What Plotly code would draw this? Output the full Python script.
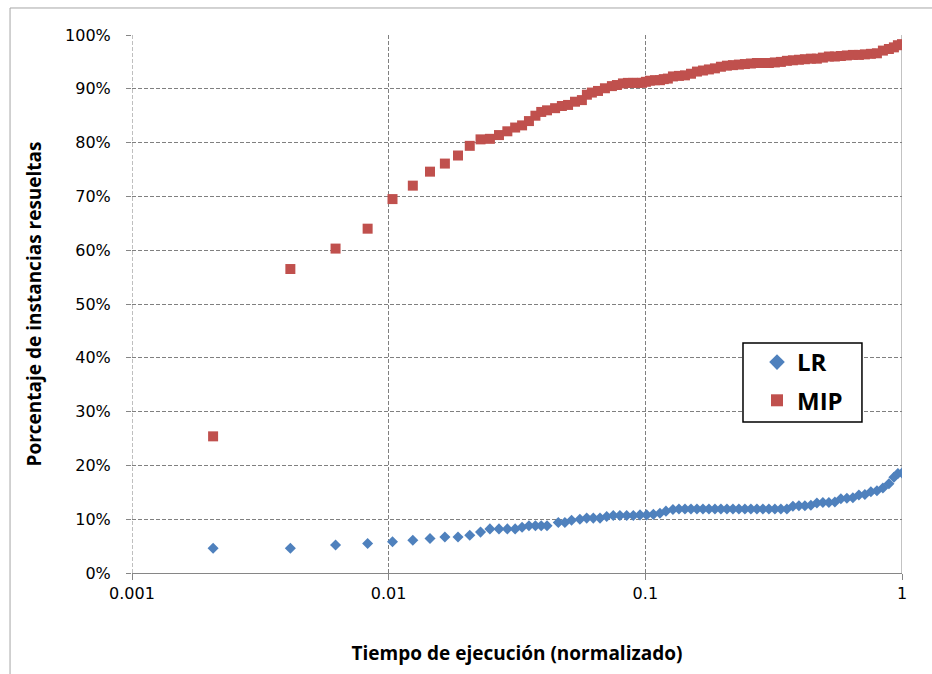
import plotly.graph_objects as go

# Normalised execution time (x) and cumulative share of solved instances (%)
lr_time = [0.00207, 0.00414, 0.00621, 0.00828, 0.01035, 0.01242, 0.01449, 0.01656,
           0.01863, 0.0207, 0.0228, 0.0248, 0.0269, 0.0290, 0.0311, 0.0331, 0.0352,
           0.0373, 0.0393, 0.0414, 0.0458, 0.0486, 0.0516, 0.0556, 0.0591, 0.0627,
           0.0666, 0.0707, 0.0750, 0.0796, 0.0846, 0.0898, 0.0953, 0.1012, 0.1075,
           0.1140, 0.1203, 0.1281, 0.1352, 0.1427, 0.1506, 0.1589, 0.1677, 0.1769,
           0.1867, 0.1970, 0.2079, 0.2194, 0.2315, 0.2443, 0.2578, 0.2721, 0.2871,
           0.3030, 0.3197, 0.3374, 0.3561, 0.3758, 0.3966, 0.4185, 0.4416, 0.4660,
           0.4918, 0.5190, 0.5477, 0.5780, 0.6099, 0.6437, 0.6793, 0.7168, 0.7565,
           0.7985, 0.8425, 0.8892, 0.9300, 0.9638, 1.0]
lr_pct = [4.6, 4.6, 5.2, 5.5, 5.8, 6.1, 6.4, 6.7,
          6.7, 7.0, 7.6, 8.2, 8.2, 8.2, 8.2, 8.5, 8.8,
          8.8, 8.8, 8.8, 9.4, 9.4, 9.8, 10.0, 10.2, 10.2,
          10.2, 10.5, 10.7, 10.7, 10.7, 10.7, 10.8, 10.8, 10.9,
          11.1, 11.5, 11.8, 11.9, 11.9, 11.9, 11.9, 11.9, 11.9,
          11.9, 11.9, 11.9, 11.9, 11.9, 11.9, 11.9, 11.9, 11.9,
          11.9, 11.9, 11.9, 11.9, 12.4, 12.5, 12.5, 12.6, 13.0,
          13.1, 13.1, 13.2, 13.8, 13.9, 14.0, 14.5, 14.6, 15.1,
          15.3, 15.8, 16.6, 17.8, 18.5, 18.6]

mip_time = [0.00207, 0.00414, 0.00621, 0.00828, 0.01035, 0.01242, 0.01449, 0.01656,
            0.01863, 0.0207, 0.0228, 0.0248, 0.0269, 0.0290, 0.0311, 0.0331, 0.0352,
            0.0373, 0.0393, 0.0414, 0.0445, 0.0473, 0.0500, 0.0532, 0.0566, 0.0592,
            0.0619, 0.0654, 0.0696, 0.0741, 0.0775, 0.0818, 0.0855, 0.0895, 0.0933,
            0.0970, 0.1005, 0.1042, 0.1090, 0.1140, 0.1180, 0.1224, 0.1281, 0.1352,
            0.1427, 0.1506, 0.1589, 0.1677, 0.1769, 0.1867, 0.1970, 0.2079, 0.2194,
            0.2315, 0.2443, 0.2578, 0.2721, 0.2871, 0.3030, 0.3197, 0.3374, 0.3561,
            0.3758, 0.3966, 0.4185, 0.4416, 0.4660, 0.4918, 0.5190, 0.5477, 0.5780,
            0.6099, 0.6437, 0.6793, 0.7168, 0.7565, 0.7985, 0.8425, 0.8892, 0.9300,
            0.9638, 1.0]
mip_pct = [25.4, 56.5, 60.3, 64.0, 69.5, 72.0, 74.6, 76.1,
           77.6, 79.4, 80.6, 80.7, 81.4, 82.1, 82.8, 83.2, 84.0,
           85.0, 85.7, 86.0, 86.4, 86.8, 87.0, 87.6, 87.9, 88.9,
           89.3, 89.6, 90.1, 90.5, 90.7, 91.0, 91.1, 91.1, 91.1,
           91.1, 91.3, 91.5, 91.6, 91.6, 91.8, 91.9, 92.3, 92.4,
           92.5, 92.8, 93.2, 93.4, 93.6, 93.8, 94.1, 94.3, 94.4,
           94.5, 94.6, 94.7, 94.8, 94.8, 94.8, 94.9, 95.0, 95.2,
           95.3, 95.4, 95.5, 95.6, 95.6, 95.8, 96.0, 96.0, 96.1,
           96.2, 96.3, 96.3, 96.4, 96.5, 96.6, 97.1, 97.4, 97.7,
           98.1, 98.3]

x_ticks = [0.001, 0.01, 0.1, 1]
x_tick_text = ["0.001", "0.01", "0.1", "1"]

GRID = "#808080"
AXIS = "#868686"
DASH = "4px,2px"

fig = go.Figure()
fig.add_trace(go.Scatter(
    x=lr_time, y=lr_pct, mode="markers", name="<b>LR</b>", legendgroup="lr",
    marker=dict(symbol="diamond", size=8.5, color="#4F81BD", line=dict(width=0)),
))
fig.add_trace(go.Scatter(
    x=mip_time, y=mip_pct, mode="markers", name="<b>MIP</b>", legendgroup="mip",
    marker=dict(symbol="square", size=10, color="#C0504D", line=dict(width=0)),
))

fig.update_xaxes(
    type="log", range=[-3, 0],
    tickvals=x_ticks, ticktext=x_tick_text,
    showgrid=True, gridcolor=GRID, gridwidth=1, griddash=DASH,
    showline=True, linecolor=AXIS, linewidth=1,
    ticks="outside", ticklen=6, tickcolor=AXIS, tickwidth=1,
    zeroline=False,
    tickfont=dict(family="DejaVu Sans", size=16, color="#000000"),
    title=dict(text="<b>Tiempo de ejecución (normalizado)</b>",
               font=dict(family="Open Sans", size=19, color="#000000"), standoff=44),
)
fig.update_yaxes(
    range=[0, 100], dtick=10, ticksuffix="%",
    showgrid=True, gridcolor=GRID, gridwidth=1, griddash=DASH,
    showline=False, zeroline=False,
    ticks="outside", ticklen=5, tickcolor=AXIS, tickwidth=1,
    ticklabelstandoff=12,
    tickfont=dict(family="DejaVu Sans", size=16, color="#000000"),
    title=dict(text="<b>Porcentaje de instancias resueltas</b>",
               font=dict(family="Open Sans", size=19, color="#000000"), standoff=18),
)

fig.update_layout(
    width=932, height=674,
    margin=dict(l=132, r=30, t=35, b=101),
    paper_bgcolor="#ffffff", plot_bgcolor="#ffffff",
    showlegend=True,
    legend=dict(
        x=0.8117, y=0.4331, xanchor="left", yanchor="top",
        bgcolor="rgba(0,0,0,0)", borderwidth=0,
        font=dict(family="Open Sans", size=24, color="#000000"),
        tracegroupgap=4, itemsizing="constant",
    ),
    shapes=[
        # dashed frame line at the left end of the time axis
        dict(type="line", xref="x", yref="paper", x0=0.001, x1=0.001, y0=0, y1=1,
             line=dict(color=GRID, width=1, dash=DASH), layer="below"),
        # solid frame line at the right end of the time axis
        dict(type="line", xref="x", yref="paper", x0=1, x1=1, y0=0, y1=1,
             line=dict(color=AXIS, width=1), layer="below"),
        # legend frame
        dict(type="rect", xref="paper", yref="paper",
             x0=0.7935, x1=0.948, y0=0.2807, y1=0.4275,
             line=dict(color="#000000", width=1.5), fillcolor="#ffffff", layer="above"),
        # outer chart-area border
        dict(type="rect", xref="paper", yref="paper",
             x0=-0.1584, x1=1.5, y0=-0.5, y1=1.0502,
             line=dict(color="#a6a6a6", width=1), fillcolor="rgba(0,0,0,0)", layer="below"),
    ],
)

fig.write_html("out.html")
